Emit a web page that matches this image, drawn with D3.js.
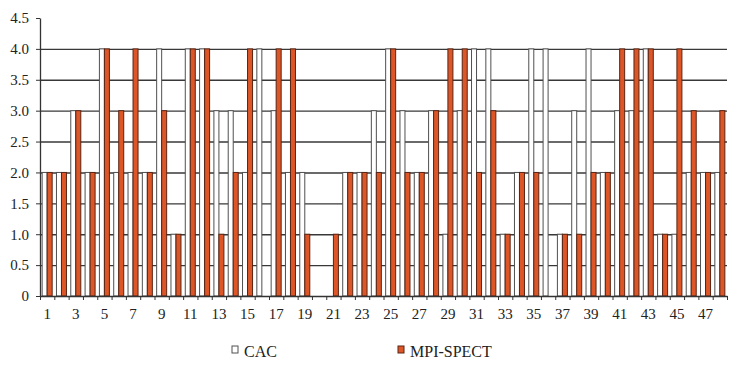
<!DOCTYPE html>
<html>
<head>
<meta charset="utf-8">
<script src="https://d3js.org/d3.v7.min.js"></script>
<style>
body {margin:0; background:#fff;}
svg text {font-family:"Liberation Serif", "Times New Roman", serif;}
</style>
</head>
<body>
<svg width="738" height="366"></svg>
<script>
// patients 1..48
var patients = [1,2,3,4,5,6,7,8,9,10,11,12,13,14,15,16,17,18,19,20,21,22,23,24,
                25,26,27,28,29,30,31,32,33,34,35,36,37,38,39,40,41,42,43,44,45,46,47,48];
var cac = [2,2,3,2,4,2,2,2,4,1,4,4,3,3,2,4,3,2,2,0,0,2,2,3,
           4,3,2,3,1,3,4,4,1,2,4,4,1,3,4,2,3,3,4,1,1,2,2,2];
var mpi = [2,2,3,2,4,3,4,2,3,1,4,4,1,2,4,0,4,4,1,0,1,2,2,2,
           4,2,2,3,4,4,2,3,1,2,2,0,1,1,2,2,4,4,4,1,4,3,2,3];
var series = ["CAC", "MPI-SPECT"];
var xLabels = [1,3,5,7,9,11,13,15,17,19,21,23,25,27,29,31,33,35,37,39,41,43,45,47];
var yTicks = [0,0.5,1,1.5,2,2.5,3,3.5,4,4.5];
var gridTicks = [0.5,1,1.5,2,2.5,3,3.5,4];

var leftmargin = 40, rightedge = 727, topmargin = 18, baseline = 296;
var fills = {"CAC": "#ffffff", "MPI-SPECT": "#dc5628"};
var strokes = {"CAC": "#505050", "MPI-SPECT": "#5a2514"};

var svg = d3.select("svg");

var x = d3.scaleBand().domain(patients).range([leftmargin, rightedge]);
var xs = d3.scaleBand().domain(series).range([0, x.bandwidth()]).paddingOuter(0.43);
var y = d3.scaleLinear().domain([0, 4.5]).range([baseline, topmargin]);
var xb = d3.scaleLinear().domain([0, patients.length]).range([leftmargin, rightedge]);

// gridlines
svg.append("g")
  .attr("transform", "translate(" + leftmargin + ",0)")
  .call(d3.axisLeft(y).tickValues(gridTicks).tickSize(-(rightedge - leftmargin)).tickFormat(""))
  .call(function(g) { g.select(".domain").remove(); })
  .selectAll("line").attr("stroke", "#383838").attr("stroke-width", 1.4);

var rows = patients.map(function(p, i) {
  return {p: p, vals: [{s: "CAC", v: cac[i]}, {s: "MPI-SPECT", v: mpi[i]}]};
});

var grp = svg.append("g").selectAll("g")
  .data(rows)
  .enter()
  .append("g")
  .attr("transform", function(d) { return "translate(" + x(d.p) + ",0)"; });

grp.selectAll("rect")
  .data(function(d) { return d.vals.filter(function(e) { return e.v > 0; }); })
  .enter()
  .append("rect")
  .attr("x", function(d) { return xs(d.s); })
  .attr("width", xs.bandwidth())
  .attr("y", function(d) { return y(d.v); })
  .attr("height", function(d) { return y(0) - y(d.v); })
  .attr("fill", function(d) { return fills[d.s]; })
  .attr("stroke", function(d) { return strokes[d.s]; })
  .attr("stroke-width", 1);

// y axis
svg.append("g")
  .attr("transform", "translate(" + leftmargin + ",0)")
  .call(d3.axisLeft(y).tickValues(yTicks).tickSize(4).tickPadding(7).tickSizeOuter(0)
    .tickFormat(function(d) { return d === 0 ? "0" : d3.format(".1f")(d); }))
  .call(function(g) {
    g.select(".domain").attr("stroke", "#333").attr("stroke-width", 1.3);
    g.selectAll("line").attr("stroke", "#333");
    g.selectAll("text").attr("font-size", "15px").attr("fill", "#222");
  });

// x axis: ticks between categories
svg.append("g")
  .attr("transform", "translate(0," + baseline + ")")
  .call(d3.axisBottom(xb).ticks(patients.length).tickSize(4).tickFormat("").tickSizeOuter(0))
  .call(function(g) {
    g.select(".domain").attr("stroke", "#333").attr("stroke-width", 1.3);
    g.selectAll("line").attr("stroke", "#333");
  });

svg.append("g")
  .attr("transform", "translate(0," + baseline + ")")
  .call(d3.axisBottom(x).tickValues(xLabels).tickSize(0).tickPadding(12))
  .call(function(g) {
    g.select(".domain").remove();
    g.selectAll("text").attr("font-size", "15px").attr("fill", "#222");
  });

// legend
var legX = [232, 398];
var leg = svg.append("g").selectAll("g")
  .data(series)
  .enter()
  .append("g")
  .attr("transform", function(d, i) { return "translate(" + legX[i] + ",346)"; });
leg.append("rect")
  .attr("width", 6).attr("height", 7)
  .attr("fill", function(d) { return fills[d]; })
  .attr("stroke", function(d) { return strokes[d]; })
  .attr("stroke-width", 1);
leg.append("text")
  .attr("x", 12).attr("y", 11)
  .attr("font-size", "16px")
  .attr("fill", "#222")
  .text(function(d) { return d; });
</script>
</body>
</html>
